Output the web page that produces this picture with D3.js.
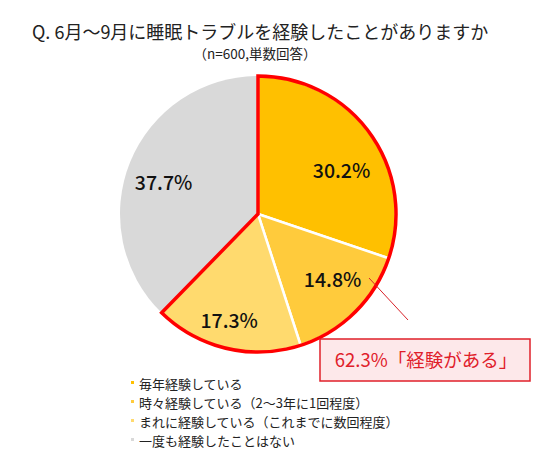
<!DOCTYPE html>
<html>
<head>
<meta charset="utf-8">
<script src="https://cdn.jsdelivr.net/npm/d3@7"></script>
<style>
  body { margin: 0; background: #fff; }
  text { font-family: "Noto Sans CJK JP", "Noto Sans", sans-serif; }
</style>
</head>
<body>
<div id="chart"></div>
<script>
// chart data
var categories = ["毎年経験している", "時々経験している（2～3年に1回程度）", "まれに経験している（これまでに数回程度）", "一度も経験したことはない"];
var values = [30.2, 14.8, 17.3, 37.7];
var colors = ["#FFC000", "#FFCB3C", "#FFDA6E", "#D9D9D9"];
var experiencedTotal = "62.3%「経験がある」";

var width = 536, height = 467;
var cx = 258, cy = 214, radius = 138;

var svg = d3.select("#chart").append("svg")
  .attr("width", width).attr("height", height);

// title
svg.append("text")
  .attr("x", 32).attr("y", 39)
  .attr("font-size", 18)
  .attr("fill", "#222")
  .text("Q. 6月～9月に睡眠トラブルを経験したことがありますか");
svg.append("text")
  .attr("x", 255).attr("y", 59)
  .attr("text-anchor", "middle")
  .attr("font-size", 13.5)
  .attr("fill", "#222")
  .text("（n=600,単数回答）");

var pie = d3.pie().sort(null).value(d => d);
var arcs = pie(values);
var arc = d3.arc().innerRadius(0).outerRadius(radius);

var g = svg.append("g").attr("transform", `translate(${cx},${cy})`);

g.selectAll("path.slice")
  .data(arcs)
  .enter()
  .append("path")
  .attr("class", "slice")
  .attr("d", arc)
  .attr("fill", (d, i) => colors[i])
  .attr("stroke", "#fff")
  .attr("stroke-width", (d, i) => i < 3 ? 2.5 : 0);

// red outline around the "experienced" slices
var expEnd = arcs[2].endAngle;
g.append("path")
  .attr("d", d3.arc().innerRadius(0).outerRadius(radius)({startAngle: 0, endAngle: expEnd}))
  .attr("fill", "none")
  .attr("stroke", "#FF0000")
  .attr("stroke-width", 3.5)
  .attr("stroke-linejoin", "miter");

// value labels (label placement tweaks per slice)
var labelRadius = [0.68, 0.72, 0.80, 0.72];
var labelShift = [8.5, -4, 2, -4];
g.selectAll("text.value")
  .data(arcs)
  .enter()
  .append("text")
  .attr("class", "value")
  .attr("transform", (d, i) => {
    var a = (d.startAngle + d.endAngle) / 2 + labelShift[i] * Math.PI / 180;
    var r = radius * labelRadius[i];
    return `translate(${Math.sin(a) * r},${-Math.cos(a) * r})`;
  })
  .attr("text-anchor", "middle")
  .attr("dy", "0.36em")
  .attr("font-size", 19.5)
  .attr("font-weight", 500)
  .attr("fill", "#111")
  .text(d => d.data.toFixed(1) + "%");

// callout leader and box
svg.append("line")
  .attr("x1", 369).attr("y1", 278)
  .attr("x2", 408).attr("y2", 320)
  .attr("stroke", "#D9232A")
  .attr("stroke-width", 1);
svg.append("rect")
  .attr("x", 320).attr("y", 339)
  .attr("width", 210).attr("height", 42)
  .attr("fill", "#FDE8EA")
  .attr("stroke", "#E0202A")
  .attr("stroke-width", 1.5);
svg.append("text")
  .attr("x", 426).attr("y", 367)
  .attr("text-anchor", "middle")
  .attr("font-size", 18.5)
  .attr("fill", "#E0202A")
  .text(experiencedTotal);

// legend
var legend = svg.selectAll("g.legend")
  .data(categories)
  .enter()
  .append("g")
  .attr("class", "legend")
  .attr("transform", (d, i) => `translate(131,${384 + i * 19})`);
legend.append("rect")
  .attr("x", 0).attr("y", -3)
  .attr("width", 3).attr("height", 3)
  .attr("fill", (d, i) => colors[i]);
legend.append("text")
  .attr("x", 8).attr("y", 0)
  .attr("dy", "0.35em")
  .attr("font-size", 13)
  .attr("fill", "#222")
  .text(d => d);
</script>
</body>
</html>
